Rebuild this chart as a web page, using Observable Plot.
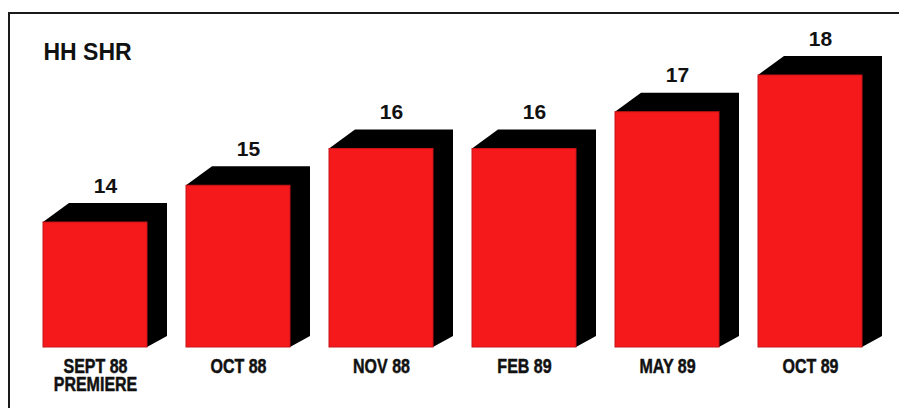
<!DOCTYPE html>
<html>
<head>
<meta charset="utf-8">
<script src="https://cdn.jsdelivr.net/npm/d3@7"></script>
<script src="https://cdn.jsdelivr.net/npm/@observablehq/plot@0.6"></script>
<style>
  html, body { margin: 0; padding: 0; background: #fff; }
  #wrap { position: relative; width: 899px; height: 408px; overflow: hidden; }
  #border { position: absolute; left: 8px; top: 12px; width: 891px; height: 396px;
            border-top: 2px solid #1a1a1a; border-left: 2px solid #1a1a1a; box-sizing: border-box; }
  #chart { position: absolute; left: 0; top: 0; }
</style>
</head>
<body>
<div id="wrap"><div id="border"></div><div id="chart"></div></div>
<script>
const categories = ["SEPT 88", "OCT 88", "NOV 88", "FEB 89", "MAY 89", "OCT 89"];
const categoryLabels = ["SEPT 88\nPREMIERE", "OCT 88", "NOV 88", "FEB 89", "MAY 89", "OCT 89"];
const values = [14, 15, 16, 16, 17, 18];
const title = "HH SHR";
const baseValue = 10.6;

const data = categories.map((c, i) => ({cat: c, label: categoryLabels[i], value: values[i]}));

const regular = "'Liberation Sans', Arial, Helvetica, sans-serif";

// 3D extrusion drawn from the library's scales
function extrusion(index, scales, channels, dimensions, context) {
  const g = d3.create("svg:g");
  const bw = scales.x.bandwidth();
  const yB = scales.y(baseValue);
  for (const i of index) {
    const d = data[i];
    const x0 = scales.x(d.cat), x1 = x0 + bw;
    const yT = scales.y(d.value);
    const pts = [[x0, yT], [x0 + 26, yT - 19], [x1 + 20, yT - 19], [x1 + 20, yB - 11], [x1, yB], [x0, yB]];
    g.append("path").attr("d", "M" + pts.map(p => p.join(",")).join("L") + "Z").attr("fill", "#000");
  }
  return g.node();
}

const chart = Plot.plot({
  width: 899,
  height: 408,
  marginLeft: 43,
  marginRight: 37,
  marginTop: 75,
  marginBottom: 61,
  x: {domain: categories, paddingInner: 0.273, paddingOuter: 0, axis: null},
  y: {domain: [baseValue, 18], axis: null},
  style: {background: "transparent", overflow: "visible"},
  marks: [
    Plot.barY(data, {x: "cat", y1: baseValue, y2: "value", fill: "#000", render: extrusion}),
    Plot.barY(data, {x: "cat", y1: baseValue, y2: "value", fill: "#f5191c", stroke: "#c81418", strokeWidth: 1}),
    Plot.text(data, {x: "cat", y: "value", text: d => String(d.value), dx: 10, dy: -30, lineAnchor: "bottom",
      fontSize: 21, fontWeight: "bold", fontFamily: regular, fill: "#111"}),
    Plot.text(data, {x: "cat", y: baseValue, text: "label", dy: 12, lineAnchor: "top", lineHeight: 0.93,
      fontSize: 20, fontWeight: "bold", fontFamily: regular, fill: "#111", stroke: "#111", strokeWidth: 0.5}),
    Plot.text([title], {frameAnchor: "top-left", dy: -16, lineAnchor: "bottom", textAnchor: "start",
      fontSize: 23, fontWeight: "bold", fontFamily: regular, fill: "#111"})
  ]
});
document.getElementById("chart").appendChild(chart);

// condense the category labels (the reference uses a condensed bold face)
const catTexts = Array.from(chart.querySelectorAll("g[aria-label='text']"))[1].querySelectorAll("text");
catTexts.forEach(t => {
  const spans = t.querySelectorAll("tspan");
  const targets = spans.length ? Array.from(spans) : [t];
  targets.forEach(s => {
    const w = s.getComputedTextLength();
    s.setAttribute("textLength", (w * 0.8).toFixed(1));
    s.setAttribute("lengthAdjust", "spacingAndGlyphs");
  });
});
</script>
</body>
</html>
